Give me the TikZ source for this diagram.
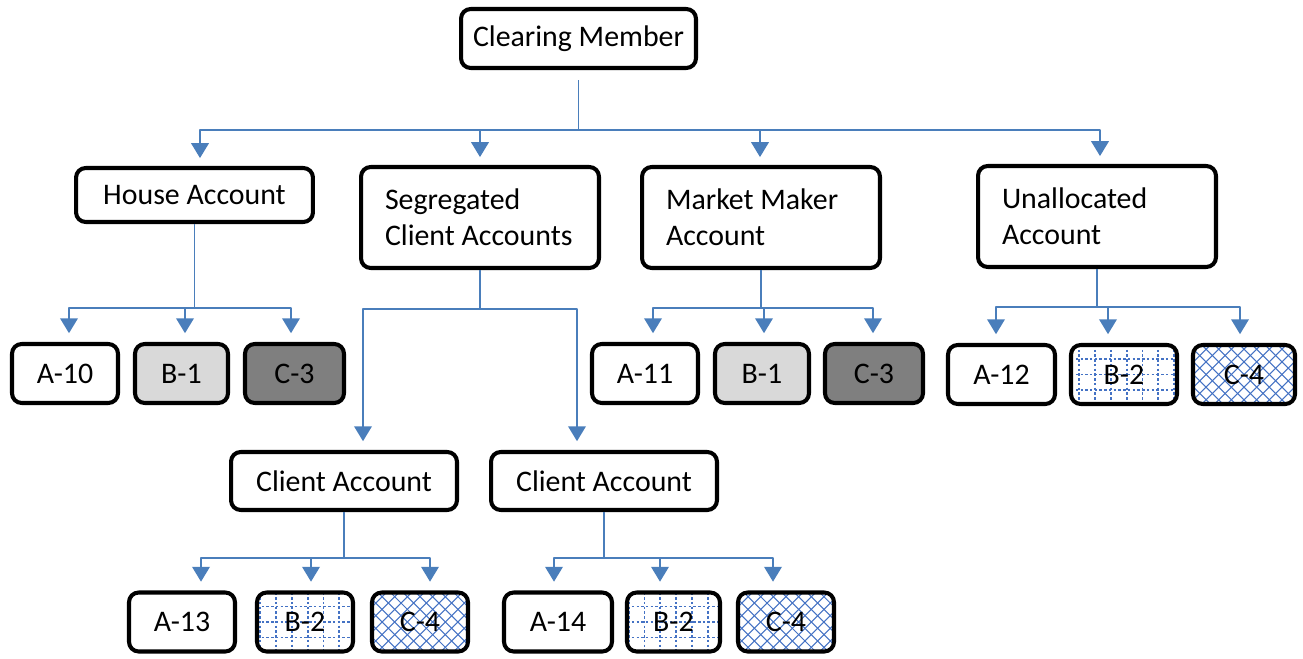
\documentclass[tikz,border=0pt]{standalone}
\usepackage{fontspec}
\setmainfont{Carlito}
\usetikzlibrary{arrows.meta}
\definecolor{linkblue}{RGB}{74,126,187}
\definecolor{patblue}{RGB}{68,114,196}
\definecolor{clight}{RGB}{217,217,217}
\definecolor{cdark}{RGB}{127,127,127}
\tikzset{
  box/.style={draw, line width=2.3pt, rounded corners=5.5pt, fill=white, inner sep=0pt, minimum height=1.18cm},
  twoline/.style={box, text width=3.8cm, inner xsep=0.48cm, align=flush left, minimum height=2.02cm},
  link/.style={draw=linkblue, line width=1.1pt},
  patline/.style={draw=patblue, line width=0.6pt},
  nofill/.style={fill=white},
  lightbox/.style={fill=clight},
  darkbox/.style={fill=cdark},
  gridbox/.style={fill=white, path picture={
    \foreach \k in {-6,...,6}
      \draw[patline, line width=1pt, dash pattern=on 1.4pt off 1.3pt] ([xshift=\k*9pt+1.5pt]path picture bounding box.north) -- ([xshift=\k*9pt+1.5pt]path picture bounding box.south);
    \foreach \k in {-3,...,3}
      \draw[patline, line width=1pt, dash pattern=on 1.4pt off 1.3pt] ([yshift=\k*8.8pt]path picture bounding box.west) -- ([yshift=\k*8.8pt]path picture bounding box.east);
  }},
  hatchbox/.style={fill=white, path picture={
    \foreach \k in {-10,...,10}{
      \draw[patline] ([xshift=\k*7.2pt]path picture bounding box.center) ++(-30pt,-30pt) -- ++(60pt,60pt);
      \draw[patline] ([xshift=\k*7.2pt]path picture bounding box.center) ++(-30pt,30pt) -- ++(60pt,-60pt);
    }
  }}
}
\begin{document}
\begin{tikzpicture}[x=0.02cm, y=-0.02cm, font=\fontsize{17}{20.4}\selectfont, line join=round, >={Triangle[width=10pt,length=8.5pt]}]
\useasboundingbox (0,0) rectangle (1303,659);

\node[box, minimum width=4.7cm] (cm) at (578.5,38.5) {Clearing Member};
\node[box, minimum width=4.74cm, minimum height=1.08cm] (house) at (194.5,195) {House Account};
\node[twoline] (seg) at (480,217.5) {Segregated\\Client Accounts};
\node[twoline] (mm) at (761,217.5) {Market Maker\\Account};
\node[twoline] (un) at (1097,216.5) {Unallocated\\Account};
\node[box, minimum width=4.52cm, minimum height=1.16cm] (ca1) at (344,481) {Client Account};
\node[box, minimum width=4.52cm, minimum height=1.16cm] (ca2) at (604,481) {Client Account};

\foreach \n/\x/\y/\w/\s/\t in {
  a10/65/373.5/2.12/nofill/A-10, b1a/181.5/373.5/1.86/lightbox/B-1, c3a/294.5/373.5/1.98/darkbox/C-3,
  a11/645/373.5/2.12/nofill/A-11, b1b/762/373.5/1.88/lightbox/B-1, c3b/874/373.5/1.96/darkbox/C-3,
  a12/1001.5/374.5/2.14/nofill/A-12, b2a/1124/374.5/2.12/gridbox/B-2, c4a/1244/374.5/2.04/hatchbox/C-4,
  a13/182/622/2.12/nofill/A-13, b2b/305/622/1.92/gridbox/B-2, c4b/420/622/1.92/hatchbox/C-4,
  a14/558/622/2.16/nofill/A-14, b2c/673.5/622/1.86/gridbox/B-2, c4c/786/622/1.92/hatchbox/C-4}
  \node[box, \s, minimum width=\w cm] (\n) at (\x,\y) {\t};

\draw[link] (cm.south) ++(0,10) -- ++(0,50) coordinate (cmbar);
\foreach \n/\d in {house/5.5, seg/0, mm/-1, un/3}
  \draw[link, ->, shorten >=4.5pt] (cmbar) -| ([xshift=\d*0.02cm]\n.north);

\draw[link] (house.south) -- ++(0,84) coordinate (hbar);
\foreach \n/\d in {a10/4, b1a/3.5, c3a/-3.5}
  \draw[link, ->, shorten >=5pt] (hbar) -| ([xshift=\d*0.02cm]\n.north);

\draw[link] (seg.south) -- ++(0,39) coordinate (sbar);
\foreach \n/\d in {ca1/19, ca2/-27}
  \draw[link, ->, shorten >=5pt] (sbar) -| ([xshift=\d*0.02cm]\n.north);

\draw[link] (mm.south) -- ++(0,38) coordinate (mbar);
\foreach \n/\d in {a11/8, b1b/2, c3b/-1}
  \draw[link, ->, shorten >=5pt] (mbar) -| ([xshift=\d*0.02cm]\n.north);

\draw[link] (un.south) -- ++(0,38) coordinate (ubar);
\foreach \n/\d in {a12/-5.5, b2a/-16, c4a/-4}
  \draw[link, ->, shorten >=5pt] (ubar) -| ([xshift=\d*0.02cm]\n.north);

\draw[link] (ca1.south) -- ++(0,46) coordinate (c1bar);
\foreach \n/\d in {a13/19, b2b/6, c4b/10}
  \draw[link, ->, shorten >=5pt] (c1bar) -| ([xshift=\d*0.02cm]\n.north);

\draw[link] (ca2.south) -- ++(0,46) coordinate (c2bar);
\foreach \n/\d in {a14/-4, b2c/-13.5, c4c/-13}
  \draw[link, ->, shorten >=5pt] (c2bar) -| ([xshift=\d*0.02cm]\n.north);
\end{tikzpicture}
\end{document}
